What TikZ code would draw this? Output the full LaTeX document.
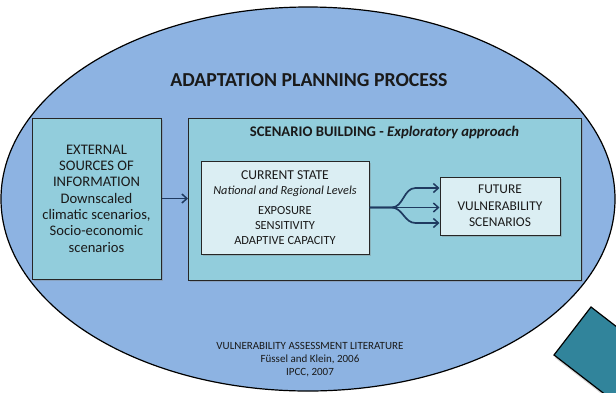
\documentclass[tikz,border=0pt]{standalone}
\usepackage{fontspec}
\setmainfont{Carlito}
\usetikzlibrary{shadows,arrows.meta,calc,shapes.geometric}
\definecolor{ellfill}{HTML}{8DB3E2}
\definecolor{boxfill}{HTML}{92CDDC}
\definecolor{innerfill}{HTML}{DBEEF3}
\definecolor{tealfill}{HTML}{31849B}
\definecolor{arrowcol}{HTML}{1F3A60}
\definecolor{txt}{HTML}{1A1A1A}
\tikzset{
  shbox/.style={draw=black!85, line width=1pt, inner sep=0pt, align=center, text=txt,
    drop shadow={opacity=0.35, shadow xshift=1.5pt, shadow yshift=-1.5pt}},
  outerbox/.style={shbox, fill=boxfill},
  innerbox/.style={shbox, fill=innerfill},
  flowarrow/.style={draw=arrowcol, line width=1.7pt, -{Straight Barb[length=5pt,width=9pt,line width=1.5pt]}},
}
\begin{document}
\begin{tikzpicture}[x=1pt,y=-1pt]
\useasboundingbox (0,0) rectangle (616,392);
\clip (0,0) rectangle (616,392);
% diamond
\path[fill=tealfill, draw=black, line width=1.2pt,
  drop shadow={opacity=0.3, shadow xshift=1pt, shadow yshift=-3pt}]
  (554,355) -- (591,307) -- (670,368) -- (633,416) -- cycle;
% ellipse
\node[ellipse, minimum width=614pt, minimum height=384pt, fill=ellfill, draw=black, line width=1.2pt, inner sep=0pt] (ell) at (308,199) {};
\node[font=\bfseries\fontsize{19.8}{22}\selectfont, text=txt] (title) at (309,80) {ADAPTATION PLANNING PROCESS};
% boxes
\node[outerbox, minimum width=129pt, minimum height=161pt, font=\fontsize{14.6}{16.3}\selectfont] (ext) at (96.5,198.5)
  {EXTERNAL\\SOURCES OF\\INFORMATION\\Downscaled\\climatic scenarios,\\Socio-economic\\scenarios};
\node[outerbox, minimum width=393pt, minimum height=162pt] (scen) at (385,199) {};
\node[font=\bfseries\fontsize{14.7}{16}\selectfont, text=txt] (scentitle) at (384.5,132) {SCENARIO BUILDING - \textit{Exploratory approach}};
\node[innerbox, minimum width=168pt, minimum height=93pt, font=\fontsize{12.4}{15}\selectfont] (cur) at (285,207.5)
  {{\fontsize{13.6}{15}\selectfont CURRENT STATE}\\{\itshape\fontsize{12.3}{15}\selectfont National and Regional Levels}\\[5pt]EXPOSURE\\SENSITIVITY\\ADAPTIVE CAPACITY};
\node[innerbox, minimum width=120pt, minimum height=58pt, font=\fontsize{13.4}{16.5}\selectfont] (fut) at (500,206)
  {FUTURE\\VULNERABILITY\\SCENARIOS};
\node[font=\fontsize{11}{13}\selectfont, text=txt, align=center] (lit) at (310,360)
  {VULNERABILITY ASSESSMENT LITERATURE\\Füssel and Klein, 2006\\IPCC, 2007};
% arrows
\draw[flowarrow] (ext.east) -- (scen.west |- ext.east);
\coordinate (t1) at ($(fut.west)+(0,-18)$);
\coordinate (t3) at ($(fut.west)+(0,17)$);
\draw[flowarrow] (cur.east) -- ++(22,0) to[out=0,in=180] ($(t1)+(-24,0)$) -- (t1);
\draw[flowarrow] (cur.east) -- (cur.east -| fut.west);
\draw[flowarrow] (cur.east) -- ++(22,0) to[out=0,in=180] ($(t3)+(-24,0)$) -- (t3);
\end{tikzpicture}
\end{document}
